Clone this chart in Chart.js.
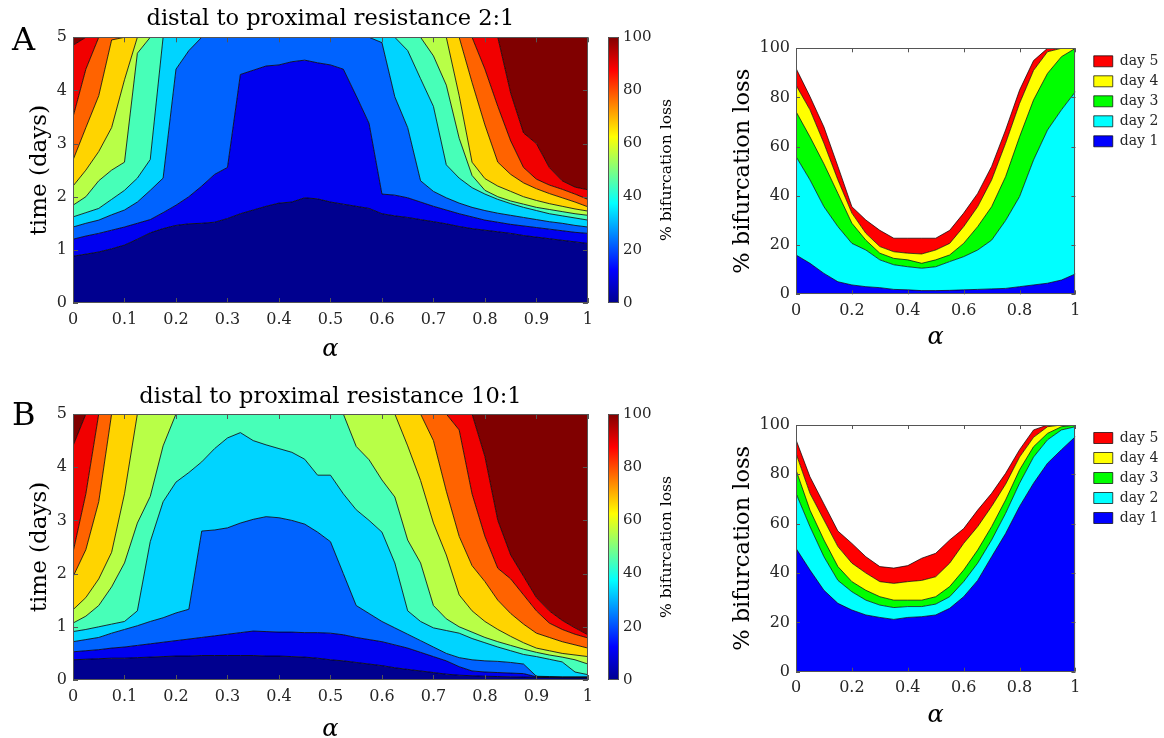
<!DOCTYPE html>
<html>
<head>
<meta charset="utf-8">
<script src="https://cdn.jsdelivr.net/npm/chart.js@4.4.1/dist/chart.umd.min.js"></script>
<style>
  body { margin: 0; background: #fff; }
  #page { position: relative; width: 1164px; height: 738px; overflow: hidden; background: #fff; }
  canvas { position: absolute; }
</style>
</head>
<body>
<div id="page">
  <canvas id="contA" width="600" height="370" style="left:0;top:0"></canvas>
  <canvas id="barA" width="100" height="370" style="left:600px;top:0"></canvas>
  <canvas id="areaA" width="470" height="370" style="left:700px;top:0"></canvas>
  <canvas id="contB" width="600" height="358" style="left:0;top:380px"></canvas>
  <canvas id="barB" width="100" height="358" style="left:600px;top:380px"></canvas>
  <canvas id="areaB" width="470" height="358" style="left:700px;top:380px"></canvas>
</div>
<script>
var SERIF = "'DejaVu Serif', serif";
var INK = '#262626';
var FRAME = '#555555';

// alpha grid of the contour maps
var alphaGrid = [0, 0.025, 0.05, 0.075, 0.1, 0.125, 0.15, 0.175, 0.2, 0.225, 0.25, 0.275, 0.3, 0.325, 0.35,
  0.375, 0.4, 0.425, 0.45, 0.475, 0.5, 0.525, 0.55, 0.575, 0.6, 0.625, 0.65, 0.675, 0.7, 0.725, 0.75,
  0.775, 0.8, 0.825, 0.85, 0.875, 0.9, 0.925, 0.95, 0.975, 1];

// time (days) at which the loss reaches 10, 20, ... 90 %  (panel A, 2:1)
var tA10 = [0.88,0.92,0.96,1.02,1.09,1.2,1.32,1.4,1.46,1.49,1.5,1.52,1.59,1.68,1.75,1.82,1.88,1.9,1.98,1.96,1.9,1.86,1.82,1.78,1.68,1.64,1.61,1.57,1.53,1.49,1.44,1.4,1.37,1.34,1.31,1.27,1.24,1.21,1.18,1.15,1.12];
var tA20 = [1.2,1.26,1.31,1.37,1.43,1.5,1.57,1.7,1.84,2.0,2.2,2.42,2.55,4.3,4.38,4.46,4.48,4.54,4.57,4.52,4.48,4.4,3.9,3.38,2.05,2.03,1.98,1.9,1.82,1.75,1.68,1.62,1.56,1.52,1.48,1.45,1.42,1.39,1.36,1.33,1.31];
var tA30 = [1.43,1.5,1.56,1.66,1.75,1.9,2.12,2.35,4.4,4.75,5,5,5,5,5,5,5,5,5,5,5,5,5,5,4.9,3.88,3.3,2.3,2.1,1.98,1.88,1.8,1.74,1.69,1.65,1.61,1.57,1.53,1.5,1.46,1.43];
var tA40 = [1.62,1.7,1.78,1.95,2.12,2.35,2.7,5,5,5,5,5,5,5,5,5,5,5,5,5,5,5,5,5,5,5,4.75,4.22,3.7,2.6,2.35,2.17,2.05,1.95,1.87,1.8,1.74,1.68,1.64,1.6,1.56];
var tA50 = [1.84,2.0,2.3,2.5,2.65,4.7,5,5,5,5,5,5,5,5,5,5,5,5,5,5,5,5,5,5,5,5,5,5,4.65,4.1,3.1,2.4,2.12,2.0,1.92,1.86,1.8,1.76,1.72,1.68,1.65];
var tA60 = [2.2,2.5,2.85,3.3,4.2,5,5,5,5,5,5,5,5,5,5,5,5,5,5,5,5,5,5,5,5,5,5,5,5,5,3.9,2.65,2.34,2.2,2.1,2.0,1.93,1.87,1.82,1.77,1.73];
var tA70 = [2.69,3.3,3.9,4.95,5,5,5,5,5,5,5,5,5,5,5,5,5,5,5,5,5,5,5,5,5,5,5,5,5,5,5,4.15,3.35,2.65,2.42,2.26,2.15,2.06,1.98,1.9,1.81];
var tA80 = [3.5,4.4,5,5,5,5,5,5,5,5,5,5,5,5,5,5,5,5,5,5,5,5,5,5,5,5,5,5,5,5,5,5,4.4,3.7,3.05,2.55,2.33,2.22,2.14,2.05,1.95];
var tA90 = [4.85,5,5,5,5,5,5,5,5,5,5,5,5,5,5,5,5,5,5,5,5,5,5,5,5,5,5,5,5,5,5,5,5,5,3.95,3.2,3.0,2.55,2.3,2.18,2.13];

// same for panel B (10:1)
var tB10 = [0.38,0.39,0.4,0.41,0.41,0.42,0.43,0.44,0.45,0.45,0.46,0.46,0.46,0.46,0.46,0.45,0.45,0.44,0.43,0.41,0.38,0.36,0.33,0.3,0.27,0.23,0.2,0.17,0.14,0.11,0.09,0.08,0.07,0.065,0.06,0.055,0.05,0.045,0.04,0.04,0.04];
var tB20 = [0.53,0.55,0.57,0.6,0.62,0.65,0.68,0.71,0.74,0.77,0.8,0.83,0.86,0.89,0.92,0.91,0.9,0.9,0.89,0.89,0.88,0.85,0.8,0.76,0.72,0.66,0.6,0.52,0.44,0.36,0.25,0.17,0.15,0.14,0.13,0.12,0.06,0.055,0.05,0.05,0.05];
var tB30 = [0.72,0.76,0.8,0.88,0.95,1.02,1.1,1.17,1.26,1.33,2.8,2.82,2.86,2.95,3.02,3.07,3.05,3.0,2.93,2.78,2.6,2.0,1.4,1.25,1.1,0.98,0.86,0.74,0.62,0.5,0.42,0.38,0.36,0.35,0.33,0.3,0.07,0.065,0.06,0.06,0.06];
var tB40 = [0.91,0.95,1.0,1.05,1.1,1.3,2.6,3.35,3.72,3.9,4.1,4.35,4.55,4.65,4.5,4.42,4.35,4.28,4.15,3.85,3.85,3.5,3.2,3.0,2.78,2.2,1.3,1.1,0.98,0.93,0.88,0.78,0.7,0.62,0.55,0.48,0.44,0.39,0.34,0.15,0.1];
var tB50 = [1.07,1.2,1.4,1.75,2.2,2.95,3.45,4.4,5,5,5,5,5,5,5,5,5,5,5,5,5,5,4.39,4.14,3.76,3.44,2.63,2.2,1.4,1.15,1.0,0.9,0.8,0.72,0.65,0.58,0.52,0.47,0.43,0.38,0.3];
var tB60 = [1.32,1.55,1.9,2.4,3.5,5,5,5,5,5,5,5,5,5,5,5,5,5,5,5,5,5,5,5,5,5,4.4,3.75,2.95,2.35,1.6,1.3,1.1,0.95,0.82,0.7,0.6,0.55,0.5,0.47,0.44];
var tB70 = [1.94,2.45,3.35,5,5,5,5,5,5,5,5,5,5,5,5,5,5,5,5,5,5,5,5,5,5,5,5,5,4.5,3.55,2.7,2.15,1.85,1.5,1.25,1.05,0.88,0.8,0.72,0.66,0.6];
var tB80 = [2.4,3.5,5,5,5,5,5,5,5,5,5,5,5,5,5,5,5,5,5,5,5,5,5,5,5,5,5,5,5,5,4.7,3.5,2.7,2.1,1.9,1.6,1.3,1.07,0.95,0.86,0.79];
var tB90 = [4.4,5,5,5,5,5,5,5,5,5,5,5,5,5,5,5,5,5,5,5,5,5,5,5,5,5,5,5,5,5,5,5,4.2,3.0,2.35,1.95,1.55,1.3,1.12,0.98,0.85];

// % bifurcation loss after each day
var alphaDays = [0,0.05,0.1,0.15,0.2,0.25,0.3,0.35,0.4,0.45,0.5,0.55,0.6,0.65,0.7,0.75,0.8,0.85,0.9,0.95,1];
var dayLabels = ['day 1', 'day 2', 'day 3', 'day 4', 'day 5'];
var day1A = [16,12.6,8.5,5.1,3.8,3.1,2.7,2,1.8,1.5,1.5,1.6,1.8,2,2.2,2.4,3.1,3.8,4.5,5.8,8.3];
var day2A = [56,46.5,35.6,27.5,20.7,18,14,12,11.2,10.6,11.2,13.3,15.3,18,22,30,39.7,54.6,66.8,75,82.4];
var day3A = [74.3,64,53,41,28.9,22,16.7,14.6,14,12.6,14,16,20.7,27.5,35.6,47.8,64,79,89.8,96.6,100];
var day4A = [85,75,61.4,46.5,33,24.8,19.4,17.3,16.7,16.4,18,20.7,27.5,35.6,46.5,61.4,77.6,91,98.6,100,100];
var day5A = [91.9,80.4,68,52,35.6,30.2,26,22.8,22.8,22.8,22.8,26,33,41,52,66.8,83,95,100,100,100];
var day1B = [50,41.2,33,27.7,25,23,22,21.2,22,22.3,23,25.7,30.4,37,46.6,56,67,76.4,84.5,90,95.3];
var day2B = [72.3,58.8,46.6,37,32.4,29,27,26,26.4,26.4,27.4,30.4,36.5,44,53.4,64.2,76.4,87,94,98,99.3];
var day3B = [81.8,65.5,53.4,42.6,36.5,33,30.4,29,29,29,30.4,34.5,41.2,49.3,58.8,69.6,81.8,91.2,96.6,99.3,100];
var day4B = [88.5,72.3,61.5,50.7,44,40,36.5,35.8,36.5,37,38.5,44,52,58.8,67,76,87,95,99.3,100,100];
var day5B = [94,79,68,57,52,46.6,42.6,42,43,46,48,53.4,58,65.5,72.3,80.4,90,98,100,100,100];

var bandColors = ['#00008F','#0000F0','#0063FF','#00D4FF','#47FFB8','#B8FF47','#FFD400','#FF6300','#F10000','#800000'];
var jetStops = [[0, '#00008F'], [0.125, '#0000FF'], [0.375, '#00FFFF'], [0.625, '#FFFF00'], [0.875, '#FF0000'], [1, '#800000']];
var dayColors = ['#0000FF', '#00FFFF', '#00FF00', '#FFFF00', '#FF0000'];

Chart.defaults.font.family = SERIF;
Chart.defaults.color = INK;
Chart.defaults.animation = false;
Chart.defaults.plugins.tooltip.enabled = false;

function pairs(xs, ys) {
  return xs.map(function (x, i) { return { x: x, y: ys[i] }; });
}

function plainTick(v) {
  return String(Number(v.toFixed(3)));
}

// matlab style box with inward ticks
var boxPlugin = {
  id: 'box',
  afterDraw: function (chart, args, opts) {
    var a = chart.chartArea, ctx = chart.ctx, len = opts.len || 0;
    ctx.save();
    ctx.strokeStyle = FRAME;
    ctx.lineWidth = 1;
    ctx.beginPath();
    if (len) {
      var sx = chart.scales.x, sy = chart.scales.y;
      sx.ticks.forEach(function (t) {
        var px = Math.round(sx.getPixelForValue(t.value)) + 0.5;
        ctx.moveTo(px, a.bottom); ctx.lineTo(px, a.bottom - len);
        ctx.moveTo(px, a.top); ctx.lineTo(px, a.top + len);
      });
      sy.ticks.forEach(function (t) {
        var py = Math.round(sy.getPixelForValue(t.value)) + 0.5;
        ctx.moveTo(a.left, py); ctx.lineTo(a.left + len, py);
        ctx.moveTo(a.right, py); ctx.lineTo(a.right - len, py);
      });
    }
    ctx.rect(Math.round(a.left) + 0.5, Math.round(a.top) + 0.5, Math.round(a.right - a.left) - 1, Math.round(a.bottom - a.top) - 1);
    ctx.stroke();
    ctx.restore();
  }
};

// free text (panel letters, colorbar label)
var notePlugin = {
  id: 'notes',
  afterDraw: function (chart, args, opts) {
    var ctx = chart.ctx;
    (opts.items || []).forEach(function (n) {
      ctx.save();
      ctx.font = n.font;
      ctx.fillStyle = n.color || INK;
      ctx.textAlign = n.align || 'left';
      ctx.textBaseline = n.baseline || 'alphabetic';
      ctx.translate(n.x, n.y);
      if (n.rotate) ctx.rotate(n.rotate);
      ctx.fillText(n.text, 0, 0);
      ctx.restore();
    });
  }
};

function jetGradient(c) {
  var area = c.chart.chartArea;
  if (!area) return jetStops[0][1];
  var g = c.chart.ctx.createLinearGradient(0, area.bottom, 0, area.top);
  jetStops.forEach(function (s) { g.addColorStop(s[0], s[1]); });
  return g;
}

function drawContour(id, levels, titleText, panel, geo) {
  var sets = levels.map(function (arr, k) {
    return {
      data: pairs(alphaGrid, arr),
      borderColor: '#000', borderWidth: 0.8, pointRadius: 0, tension: 0,
      backgroundColor: bandColors[k],
      fill: k === 0 ? 'origin' : '-1'
    };
  });
  // band above the last contour
  sets.push({
    data: pairs(alphaGrid, levels[levels.length - 1]),
    borderWidth: 0, pointRadius: 0, borderColor: 'rgba(0,0,0,0)',
    backgroundColor: bandColors[levels.length], fill: 'end'
  });

  new Chart(document.getElementById(id), {
    type: 'line',
    data: { datasets: sets },
    options: {
      responsive: false,
      layout: { padding: { left: 0, right: 12, top: 0, bottom: 0 } },
      plugins: {
        legend: { display: false },
        filler: { drawTime: 'beforeDatasetsDraw' },
        title: {
          display: true, text: titleText, fullSize: false, color: '#000',
          font: { size: 22.5, weight: 'normal' }, padding: geo.titlePad
        },
        box: { len: 5 },
        notes: { items: [{ text: panel, x: 12, y: geo.panelY, font: '32px ' + SERIF, color: '#000' }] }
      },
      scales: {
        x: {
          type: 'linear', min: 0, max: 1,
          ticks: { stepSize: 0.1, font: { size: 16 }, padding: 7, color: INK, callback: plainTick },
          grid: { display: false, drawTicks: false }, border: { display: false },
          title: { display: true, text: 'α', color: '#000', font: { size: 24, style: 'italic' }, padding: { top: 0, bottom: geo.alphaPad } },
          afterFit: function (s) { s.height = geo.xH; }
        },
        y: {
          min: 0, max: 5,
          ticks: { stepSize: 1, font: { size: 16 }, padding: 6, color: INK },
          grid: { display: false, drawTicks: false }, border: { display: false },
          title: { display: true, text: 'time (days)', color: '#000', font: { size: 23 }, padding: { top: 26.2, bottom: 0 } },
          afterFit: function (s) { s.width = 73; }
        }
      }
    },
    plugins: [boxPlugin, notePlugin]
  });
}

function drawColorbar(id, geo) {
  new Chart(document.getElementById(id), {
    type: 'bar',
    data: {
      labels: [''],
      datasets: [{ data: [100], backgroundColor: jetGradient, borderWidth: 0, barPercentage: 1, categoryPercentage: 1 }]
    },
    options: {
      responsive: false,
      layout: { padding: { left: 8, right: 0, top: geo.top, bottom: geo.bottom } },
      plugins: {
        legend: { display: false },
        box: { len: 0 },
        notes: { items: [{ text: '% bifurcation loss', x: 66.7, y: geo.mid, rotate: -Math.PI / 2, align: 'center', baseline: 'middle', font: '15.6px ' + SERIF, color: '#000' }] }
      },
      scales: {
        x: { display: false },
        y: {
          position: 'right', min: 0, max: 100,
          ticks: { stepSize: 20, font: { size: 15 }, padding: 4, color: INK },
          grid: { display: false, drawTicks: false }, border: { display: false },
          afterFit: function (s) { s.width = 81; }
        }
      }
    },
    plugins: [boxPlugin, notePlugin]
  });
}

function drawArea(id, days, geo) {
  var sets = days.map(function (arr, k) {
    return {
      label: dayLabels[k],
      data: pairs(alphaDays, arr),
      borderColor: '#000', borderWidth: 0.7, pointRadius: 0, tension: 0,
      backgroundColor: dayColors[k],
      fill: k === 0 ? 'origin' : '-1'
    };
  });
  new Chart(document.getElementById(id), {
    type: 'line',
    data: { datasets: sets },
    options: {
      responsive: false,
      layout: { padding: { left: 0, right: 4.7, top: geo.top, bottom: 0 } },
      plugins: {
        legend: {
          display: true, position: 'right', align: 'start', reverse: true,
          labels: { boxWidth: 19, boxHeight: 11, font: { size: 14 }, color: INK, padding: 6 }
        },
        filler: { drawTime: 'beforeDatasetsDraw' },
        box: { len: 4 }
      },
      scales: {
        x: {
          type: 'linear', min: 0, max: 1,
          ticks: { stepSize: 0.2, font: { size: 16 }, padding: 7, color: INK, callback: plainTick },
          grid: { display: false, drawTicks: false }, border: { display: false },
          title: { display: true, text: 'α', color: '#000', font: { size: 24, style: 'italic' }, padding: { top: 0, bottom: geo.alphaPad } },
          afterFit: function (s) { s.height = geo.xH; }
        },
        y: {
          min: 0, max: 100,
          ticks: { stepSize: 20, font: { size: 16 }, padding: 6, color: INK },
          grid: { display: false, drawTicks: false }, border: { display: false },
          title: { display: true, text: '% bifurcation loss', color: '#000', font: { size: 22.5 }, padding: { top: 29.5, bottom: 0 } },
          afterFit: function (s) { s.width = 96; }
        },
        gap: {
          type: 'linear', axis: 'y', position: 'right', display: true,
          ticks: { display: false }, grid: { display: false, drawTicks: false }, border: { display: false },
          afterFit: function (s) { s.width = 12.3; }
        }
      }
    },
    plugins: [boxPlugin]
  });
}

drawContour('contA', [tA10, tA20, tA30, tA40, tA50, tA60, tA70, tA80, tA90],
  'distal to proximal resistance 2:1', 'A',
  { titlePad: { top: 5.2, bottom: 5.1 }, panelY: 50, xH: 67, alphaPad: 5.6 });
drawContour('contB', [tB10, tB20, tB30, tB40, tB50, tB60, tB70, tB80, tB90],
  'distal to proximal resistance 10:1', 'B',
  { titlePad: { top: 3.5, bottom: 3.5 }, panelY: 45, xH: 58, alphaPad: -6 });
drawColorbar('barA', { top: 37, bottom: 67, mid: 170 });
drawColorbar('barB', { top: 34, bottom: 58, mid: 167 });
drawArea('areaA', [day1A, day2A, day3A, day4A, day5A], { top: 48.3, xH: 75.7, alphaPad: 17.6 });
drawArea('areaB', [day1B, day2B, day3B, day4B, day5B], { top: 45, xH: 66.3, alphaPad: 7.6 });
</script>
</body>
</html>
